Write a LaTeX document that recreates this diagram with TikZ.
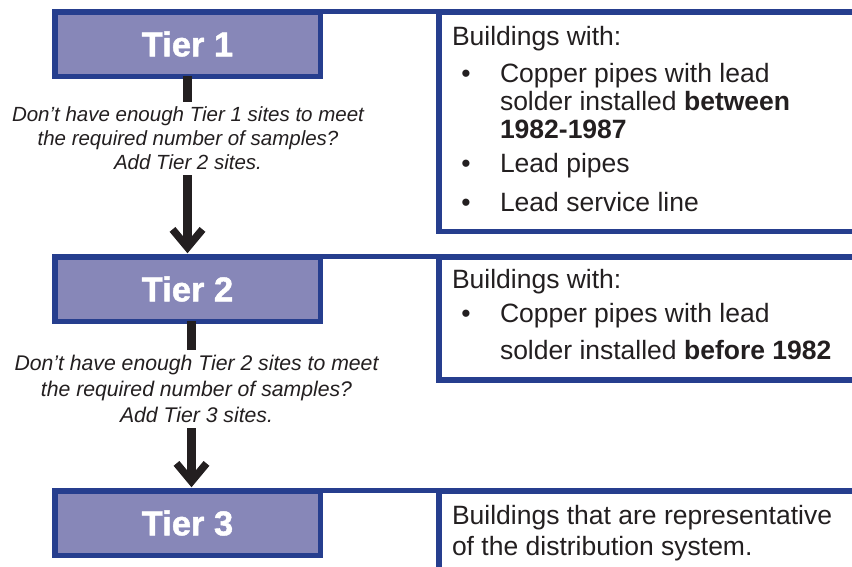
\documentclass[tikz,border=0pt]{standalone}
\usepackage{fontspec}
\setmainfont{Liberation Sans}
\newfontfamily\tierfont[BoldFeatures={FakeBold=1.3}]{Liberation Sans}
\usetikzlibrary{arrows.meta}
\definecolor{bord}{RGB}{38,62,142}
\definecolor{tfill}{RGB}{135,135,184}
\definecolor{ink}{RGB}{35,31,32}
\begin{document}
\begin{tikzpicture}[x=1pt,y=-1pt, outer sep=0pt,
 tierbox/.style={draw=bord, fill=tfill, line width=5.5pt, minimum width=265.5pt, minimum height=64.5pt, inner sep=0pt, text=white, font=\fontsize{34.5}{40}\tierfont\bfseries},
 infobox/.style={draw=bord, line width=5.5pt, anchor=north west, inner sep=0pt, minimum width=440pt},
 link/.style={draw=bord, line width=5pt},
 flow/.style={draw=ink, line width=9pt, -{Straight Barb[length=18pt,width=30pt,line width=7.5pt]}},
 note/.style={fill=white, align=center, inner xsep=3pt, inner ysep=5pt, text=ink},
 info/.style={anchor=base west, inner sep=0pt, text=ink, font=\fontsize{26.5}{31}\selectfont},
 bul/.style={anchor=base, inner sep=0pt, text=ink, font=\fontsize{26.5}{31}\selectfont}
]
\useasboundingbox (0,0) rectangle (852,566);

% info boxes
\node[infobox, minimum height=219.5pt] (b1) at (439,11.75) {};
\node[infobox, minimum height=123pt] (b2) at (439,256.75) {};
\node[infobox, minimum height=120pt] (b3) at (439,490.75) {};

% tier boxes
\node[tierbox] (t1) at (187.5,44) {Tier 1};
\node[tierbox] (t2) at (187.5,289) {Tier 2};
\node[tierbox] (t3) at (187.5,523) {Tier 3};

% links
\draw[link] (t1.north east) -- (b1.north west);
\draw[link] (t2.north east) -- (b2.north west);
\draw[link] (t3.north east) -- (b3.north west);

% flow arrows
\draw[flow] (t1.south) -- ([yshift=3.5pt]t2.north);
\draw[flow] ([xshift=4pt]t2.south) -- ([xshift=4pt,yshift=3.5pt]t3.north);

% notes
\node[note, anchor=north, font=\fontsize{20.5}{24}\selectfont\itshape] (q1) at (188,102)
 {Don’t have enough Tier 1 sites to meet\\the required number of samples?\\Add Tier 2 sites.};
\node[note, anchor=north, font=\fontsize{21.2}{26}\selectfont\itshape] (q2) at (196.5,350)
 {Don’t have enough Tier 2 sites to meet\\the required number of samples?\\Add Tier 3 sites.};

% box 1 text
\node[info] (l11) at (452,45) {Buildings with:};
\node[bul] (u11) at (466,82) {•};
\node[info] (l12) at (500,82) {Copper pipes with lead};
\node[info] (l13) at (500,110) {solder installed \textbf{between}};
\node[info] (l14) at (500,138) {\textbf{1982-1987}};
\node[bul] (u12) at (466,172) {•};
\node[info] (l15) at (500,172) {Lead pipes};
\node[bul] (u13) at (466,211) {•};
\node[info] (l16) at (500,211) {Lead service line};

% box 2 text
\node[info] (l21) at (452,288) {Buildings with:};
\node[bul] (u21) at (466,322) {•};
\node[info] (l22) at (500,322) {Copper pipes with lead};
\node[info] (l23) at (500,359) {solder installed \textbf{before 1982}};

% box 3 text
\node[info] (l31) at (452,524) {Buildings that are representative};
\node[info] (l32) at (452,555) {of the distribution system.};
\end{tikzpicture}
\end{document}
